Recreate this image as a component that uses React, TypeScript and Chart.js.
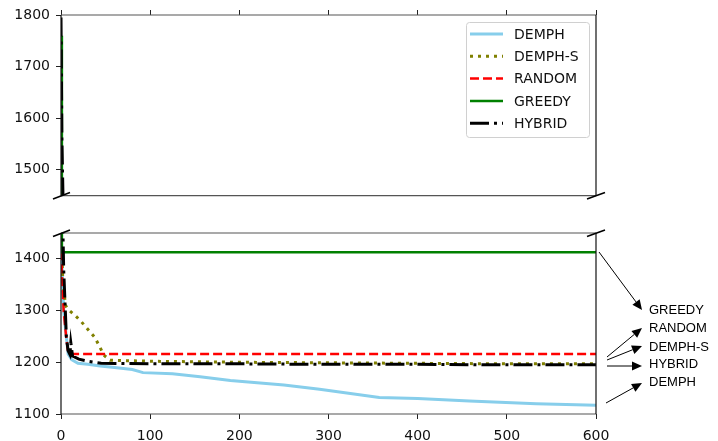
import React, { useEffect, useRef } from 'react';
import { Chart, registerables } from 'chart.js';
Chart.register(...registerables);

// ---------- data ----------
const seriesNames = ['DEMPH', 'DEMPH-S', 'RANDOM', 'GREEDY', 'HYBRID'];

const demphX = [0, 3, 8, 12, 19, 30, 44, 60, 80, 92, 125, 156, 190, 250, 290, 357, 400, 458, 533, 600];
const demphY = [1440, 1300, 1216, 1205, 1198, 1196, 1193, 1190, 1186, 1180, 1178, 1172, 1165, 1156, 1148, 1132, 1130, 1125, 1120, 1117];

const demphSX = [0, 2, 5, 8, 15, 22, 30, 38, 44, 48, 55, 100, 200, 300, 400, 500, 600];
const demphSY = [1450, 1360, 1310, 1302, 1292, 1280, 1264, 1248, 1228, 1214, 1204, 1202, 1200, 1199, 1198, 1197, 1197];

const randomX = [0, 1, 3, 6, 8, 10, 600];
const randomY = [1440, 1370, 1300, 1245, 1220, 1216, 1216];

const greedyX = [0, 1, 600];
const greedyY = [1760, 1413, 1413];

const hybridX = [0, 1, 3, 6, 8, 10, 11, 13, 20, 30, 45, 100, 200, 300, 400, 500, 600];
const hybridY = [1795, 1560, 1380, 1250, 1222, 1215, 1238, 1212, 1206, 1202, 1198, 1197, 1197, 1196, 1196, 1195, 1195];

const xTicks = [0, 100, 200, 300, 400, 500, 600];
const topYTicks = [1500, 1600, 1700, 1800];
const bottomYTicks = [1100, 1200, 1300, 1400];
const annotationLabels = ['GREEDY', 'RANDOM', 'DEMPH-S', 'HYBRID', 'DEMPH'];

// ---------- styles ----------
const seriesStyles = [
  { color: '#87CEEB', width: 3, dash: [] as number[], order: 4 },
  { color: '#808000', width: 3, dash: [3, 5], order: 3 },
  { color: '#FF0000', width: 2.5, dash: [9, 4], order: 2 },
  { color: '#008000', width: 2.5, dash: [] as number[], order: 1 },
  { color: '#000000', width: 3, dash: [19, 5, 3, 5], order: 0 },
];
const seriesXs = [demphX, demphSX, randomX, greedyX, hybridX];
const seriesYs = [demphY, demphSY, randomY, greedyY, hybridY];

const FONT = 'DejaVu Sans';
const TEXT = '#111';

function makeDatasets() {
  return seriesNames.map((name, i) => ({
    label: name,
    data: seriesXs[i].map((x, j) => ({ x, y: seriesYs[i][j] })),
    borderColor: seriesStyles[i].color,
    backgroundColor: seriesStyles[i].color,
    borderWidth: seriesStyles[i].width,
    borderDash: seriesStyles[i].dash,
    borderCapStyle: 'butt' as const,
    pointRadius: 0,
    tension: 0,
    fill: false,
    order: seriesStyles[i].order,
  }));
}

function line(ctx: CanvasRenderingContext2D, x1: number, y1: number, x2: number, y2: number) {
  ctx.beginPath();
  ctx.moveTo(x1, y1);
  ctx.lineTo(x2, y2);
  ctx.stroke();
}

function framePlugin(kind: 'top' | 'bottom') {
  return {
    id: 'frame_' + kind,
    afterDatasetsDraw(chart: any) {
      const { ctx, chartArea: a } = chart;
      ctx.save();
      ctx.setLineDash([]);
      ctx.lineWidth = 1.2;
      ctx.strokeStyle = '#555';
      line(ctx, a.left, a.top, a.right, a.top);
      line(ctx, a.left, a.bottom, a.right, a.bottom);
      ctx.strokeStyle = '#111';
      line(ctx, a.left, a.top, a.left, a.bottom);
      line(ctx, a.right, a.top, a.right, a.bottom);
      // break marks
      ctx.lineWidth = 1.6;
      ctx.strokeStyle = '#000';
      const y = kind === 'top' ? a.bottom : a.top;
      line(ctx, a.left - 8, y + 3.5, a.left + 9, y - 3);
      line(ctx, a.right - 9, y + 3.5, a.right + 9, y - 3);
      ctx.restore();
    },
  };
}

const legendPlugin = {
  id: 'insideLegend',
  afterDraw(chart: any) {
    const { ctx, chartArea: a } = chart;
    const w = 123, h = 115;
    const x0 = a.right - 7 - w;
    const y0 = a.top + 7;
    ctx.save();
    ctx.beginPath();
    if ((ctx as any).roundRect) (ctx as any).roundRect(x0 + 0.5, y0 + 0.5, w, h, 3);
    else ctx.rect(x0 + 0.5, y0 + 0.5, w, h);
    ctx.fillStyle = 'rgba(255,255,255,0.85)';
    ctx.fill();
    ctx.strokeStyle = '#d0d0d0';
    ctx.lineWidth = 1;
    ctx.stroke();
    ctx.font = `14px "${FONT}"`;
    ctx.textBaseline = 'middle';
    ctx.fillStyle = TEXT;
    chart.data.datasets.forEach((ds: any, i: number) => {
      const cy = y0 + 12 + i * 22.3;
      ctx.strokeStyle = ds.borderColor;
      ctx.lineWidth = ds.borderWidth;
      ctx.lineCap = 'butt';
      ctx.setLineDash(ds.borderDash || []);
      line(ctx, x0 + 4, cy, x0 + 37, cy);
      ctx.setLineDash([]);
      ctx.fillText(ds.label, x0 + 48, cy + 1);
    });
    ctx.restore();
  },
};

const annotationPlugin = {
  id: 'sideNotes',
  afterDraw(chart: any) {
    const { ctx, chartArea: a } = chart;
    const r = a.right, t = a.top;
    const textY = [77, 95, 114, 131, 149];
    const arrows = [
      [3, 19, 46, 77],
      [11, 124, 46, 95],
      [11, 127, 46, 113],
      [11, 133, 46, 133],
      [10, 170, 46, 150],
    ];
    ctx.save();
    ctx.fillStyle = '#000';
    ctx.strokeStyle = '#000';
    ctx.lineWidth = 1;
    ctx.setLineDash([]);
    arrows.forEach(([sx, sy, ex, ey]) => {
      const x1 = r + sx, y1 = t + sy, x2 = r + ex, y2 = t + ey;
      const ang = Math.atan2(y2 - y1, x2 - x1);
      const hl = 10, hw = 4.5;
      const bx = x2 - hl * Math.cos(ang), by = y2 - hl * Math.sin(ang);
      line(ctx, x1, y1, bx, by);
      ctx.beginPath();
      ctx.moveTo(x2, y2);
      ctx.lineTo(bx + hw * Math.sin(ang), by - hw * Math.cos(ang));
      ctx.lineTo(bx - hw * Math.sin(ang), by + hw * Math.cos(ang));
      ctx.closePath();
      ctx.fill();
    });
    ctx.font = '13px "Liberation Sans"';
    ctx.textBaseline = 'middle';
    ctx.textAlign = 'left';
    annotationLabels.forEach((lab, i) => {
      ctx.fillText(lab, r + 53, t + textY[i]);
    });
    ctx.restore();
  },
};

function makeOptions(kind: 'top' | 'bottom') {
  const isTop = kind === 'top';
  return {
    responsive: false,
    animation: false as const,
    devicePixelRatio: 1,
    layout: { padding: isTop ? { left: 0, right: 122, top: 0, bottom: 14 } : { left: 0, right: 122, top: 18, bottom: 0 } },
    plugins: { legend: { display: false }, tooltip: { enabled: false } },
    scales: {
      x: {
        type: 'linear' as const,
        position: isTop ? ('top' as const) : ('bottom' as const),
        min: 0,
        max: 600,
        afterBuildTicks: (s: any) => { s.ticks = xTicks.map((v) => ({ value: v })); },
        afterFit: (s: any) => { s.height = isTop ? 15 : 27; },
        ticks: { display: !isTop, font: { family: FONT, size: 14 }, color: TEXT, padding: 9, maxRotation: 0, callback: (v: any) => String(v) },
        grid: { drawOnChartArea: false, drawTicks: true, tickLength: 5, tickColor: '#222', tickWidth: 1 },
        border: { display: false },
      },
      y: {
        type: 'linear' as const,
        min: isTop ? 1450 : 1100,
        max: isTop ? 1800 : 1450,
        afterBuildTicks: (s: any) => { s.ticks = (isTop ? topYTicks : bottomYTicks).map((v) => ({ value: v })); },
        afterFit: (s: any) => { s.width = 61; },
        ticks: { font: { family: FONT, size: 14 }, color: TEXT, padding: 6, callback: (v: any) => String(v) },
        grid: { drawOnChartArea: false, drawTicks: true, tickLength: 5, tickColor: '#222', tickWidth: 1 },
        border: { display: false },
      },
    },
  };
}

export default function App() {
  const topRef = useRef<HTMLCanvasElement>(null);
  const botRef = useRef<HTMLCanvasElement>(null);
  useEffect(() => {
    const top = new Chart(topRef.current as HTMLCanvasElement, {
      type: 'line',
      data: { datasets: makeDatasets() },
      options: makeOptions('top') as any,
      plugins: [framePlugin('top'), legendPlugin],
    });
    const bot = new Chart(botRef.current as HTMLCanvasElement, {
      type: 'line',
      data: { datasets: makeDatasets() },
      options: makeOptions('bottom') as any,
      plugins: [framePlugin('bottom'), annotationPlugin],
    });
    return () => { top.destroy(); bot.destroy(); };
  }, []);
  return (
    <div style={{ position: 'absolute', left: 0, top: 0, width: 718, height: 441, background: '#fff', overflow: 'hidden' }}>
      <canvas ref={topRef} width={718} height={210} style={{ position: 'absolute', left: 0, top: 0, width: 718, height: 210 }} />
      <canvas ref={botRef} width={718} height={226} style={{ position: 'absolute', left: 0, top: 215, width: 718, height: 226 }} />
    </div>
  );
}
